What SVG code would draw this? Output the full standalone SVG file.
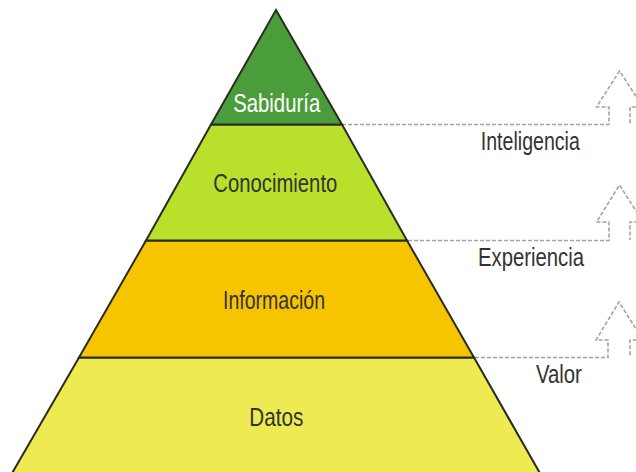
<svg xmlns="http://www.w3.org/2000/svg" width="636" height="472" viewBox="0 0 636 472">
<style>
.lvl{stroke:#2b2b22;stroke-width:2;stroke-linejoin:miter}
.t{font-family:"Liberation Sans",Arial,sans-serif;font-size:25px;text-anchor:middle;fill:#333}
.w{fill:#ffffff}
.c{fill:none;stroke:#a3a3a3;stroke-width:1.6;stroke-dasharray:4 2}
</style>
<rect width="636" height="472" fill="#ffffff"/>
<g id="connectors">
<path class="c" d="M342 124.5 H609 V107 H596.5 L619.5 71 L643 107 H630 V124"/>
<path class="c" d="M408 240.5 H609 V222 H596.5 L619.5 185 L643 222 H630 V240"/>
<path class="c" d="M475 357.5 H608 V340 H596 L619 302 L643 340 H630 V357"/>
</g>
<g id="datos">
<polygon class="lvl" fill="#edea52" points="79,357.5 474,357.5 541,475 11,475"/>
<text class="t" x="276.3" y="426" textLength="54" lengthAdjust="spacingAndGlyphs">Datos</text>
</g>
<g id="informacion">
<polygon class="lvl" fill="#f7c400" points="146,240.5 407,240.5 474,357.5 79,357.5"/>
<text class="t" x="274" y="309.3" textLength="102" lengthAdjust="spacingAndGlyphs">Información</text>
</g>
<g id="conocimiento">
<polygon class="lvl" fill="#b9e02a" points="211,124.5 342,124.5 407,240.5 146,240.5"/>
<text class="t" x="275.3" y="192.3" textLength="124" lengthAdjust="spacingAndGlyphs">Conocimiento</text>
</g>
<g id="sabiduria">
<polygon class="lvl" fill="#4b9d3b" points="276,10 342,124.5 211,124.5"/>
<text class="t w" x="276.7" y="111.7" textLength="87" lengthAdjust="spacingAndGlyphs">Sabiduría</text>
</g>
<g id="labels">
<text class="t" x="530.3" y="150" textLength="99" lengthAdjust="spacingAndGlyphs">Inteligencia</text>
<text class="t" x="531" y="266" textLength="106" lengthAdjust="spacingAndGlyphs">Experiencia</text>
<text class="t" x="558.9" y="382.5" textLength="46" lengthAdjust="spacingAndGlyphs">Valor</text>
</g>
</svg>
